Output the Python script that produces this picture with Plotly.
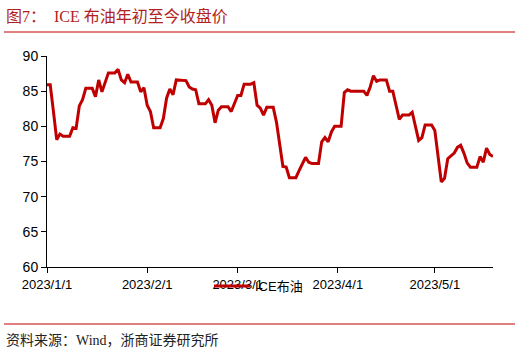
import pandas as pd
import plotly.graph_objects as go

# ---- data (daily) ----
jan = [85.9, 85.9, 82.1, 78.1, 78.9, 78.6, 78.6, 78.6, 79.8, 79.7,
       82.9, 83.8, 85.4, 85.4, 85.4, 84.2, 86.6, 84.9, 86.2, 87.6,
       87.6, 87.6, 88.1, 86.6, 86.2, 87.4, 86.3, 86.3, 86.3, 84.9, 85.5]
feb = [83.0, 82.1, 79.8, 79.8, 79.8, 81.1, 84.0, 85.3, 84.5, 86.6,
       86.6, 86.6, 86.5, 85.6, 85.3, 85.2, 83.2, 83.2, 83.2, 83.8,
       83.0, 80.5, 82.3, 82.8, 82.8, 82.8, 82.1, 83.3]
mar = [84.4, 84.4, 86.0, 86.0, 86.0, 86.2, 83.0, 82.6, 81.6, 82.7,
       82.7, 82.7, 80.6, 77.5, 74.3, 74.2, 72.7, 72.7, 72.7, 73.7,
       74.7, 75.6, 74.9, 74.7, 74.7, 74.7, 77.8, 78.4, 77.8, 79.2, 80.0]
apr = [80.0, 80.0, 84.8, 85.2, 85.0, 85.0, 85.0, 85.0, 85.0, 84.4,
       85.6, 87.2, 86.4, 86.6, 86.6, 86.6, 85.0, 85.0, 83.0, 81.0,
       81.6, 81.6, 81.6, 82.0, 80.0, 78.0, 78.4, 80.2, 80.2, 80.2]
may = [79.4, 75.6, 72.1, 72.6, 75.4, 75.8, 76.2, 77.0, 77.3, 76.2,
       74.8, 74.2, 74.2, 74.2, 75.7, 74.9, 76.9, 76.0, 75.7]
brent = jan + feb + mar + apr + may
dates = pd.date_range("2023-01-01", periods=len(brent), freq="D")

tick_dates = ["2023-01-01", "2023-02-01", "2023-03-01", "2023-04-01", "2023-05-01"]
tick_labels = ["2023/1/1", "2023/2/1", "2023/3/1", "2023/4/1", "2023/5/1"]
y_ticks = [60, 65, 70, 75, 80, 85, 90]

series_name = "ICE布油"
title_text = "图7：  ICE 布油年初至今收盘价"
source_text = "资料来源：Wind，浙商证券研究所"

# ---- layout geometry (pixels) ----
W, H = 520, 354
L, R, T, B = 47, 27, 56, 87
pw, ph = W - L - R, H - T - B

def px(x):
    return (x - L) / pw

def py(y):
    return (H - B - y) / ph

RED = "#C00000"

fig = go.Figure()
fig.add_trace(go.Scatter(
    x=dates, y=brent, mode="lines", name=series_name,
    line=dict(color=RED, width=3),
))

fig.update_layout(
    width=W, height=H,
    margin=dict(l=L, r=R, t=T, b=B),
    paper_bgcolor="white", plot_bgcolor="white",
    font=dict(family="Liberation Sans, Arial, Noto Sans CJK SC", size=13, color="#000000"),
    showlegend=True,
    legend=dict(
        orientation="h", x=px(209), y=py(271), xanchor="left", yanchor="top",
        font=dict(size=13, color="#000000"), bgcolor="rgba(0,0,0,0)",
        itemwidth=36,
    ),
    xaxis=dict(
        range=["2023-01-01", "2023-05-19"],
        tickmode="array", tickvals=tick_dates, ticktext=tick_labels,
        showgrid=False, zeroline=False,
        showline=True, linecolor="#000000", linewidth=1,
        ticks="outside", ticklen=5, tickcolor="#000000",
        tickfont=dict(size=13), fixedrange=True,
    ),
    yaxis=dict(
        range=[60, 90], tickmode="array", tickvals=y_ticks,
        showgrid=False, zeroline=False,
        showline=True, linecolor="#000000", linewidth=1,
        ticks="outside", ticklen=5, tickcolor="#000000",
        tickfont=dict(size=14), fixedrange=True,
    ),
    shapes=[
        dict(type="line", xref="paper", yref="paper",
             x0=px(4), x1=px(515), y0=py(32), y1=py(32),
             line=dict(color=RED, width=1)),
        dict(type="line", xref="paper", yref="paper",
             x0=px(4), x1=px(515), y0=py(324), y1=py(324),
             line=dict(color=RED, width=1)),
    ],
    annotations=[
        dict(text=title_text, xref="paper", yref="paper",
             x=px(4), y=py(16), xanchor="left", yanchor="middle",
             showarrow=False,
             font=dict(family="Liberation Serif, Noto Sans CJK SC", size=16, color="#B22222")),
        dict(text=source_text, xref="paper", yref="paper",
             x=px(4), y=py(340), xanchor="left", yanchor="middle",
             showarrow=False,
             font=dict(family="Liberation Serif, Noto Sans CJK SC", size=14, color="#222222")),
    ],
)

fig.write_html("out.html")
